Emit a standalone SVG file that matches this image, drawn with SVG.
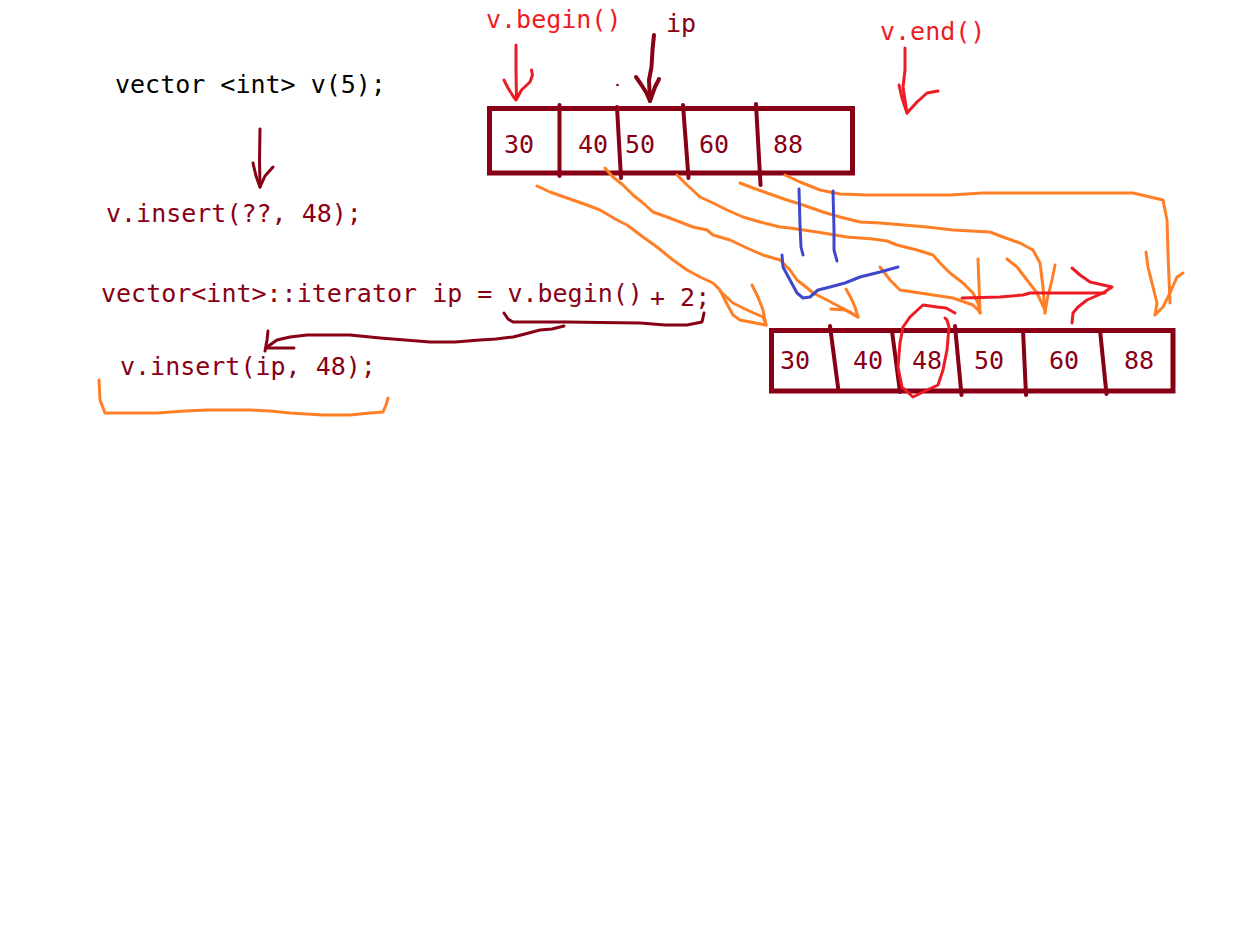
<svg xmlns="http://www.w3.org/2000/svg" width="1244" height="941" viewBox="0 0 1244 941">
<style>
text{font-family:"DejaVu Sans Mono","Liberation Mono",monospace;font-size:25px}
.dr{fill:#880015}
.rd{fill:#ED1C24}
.bk{fill:#000000}
.box{fill:none;stroke:#880015;stroke-width:5}
.div{stroke:#880015;stroke-width:4;stroke-linecap:round;fill:none}
.o{fill:none;stroke:#FF7F27;stroke-width:3;stroke-linecap:round;stroke-linejoin:round}
.b{fill:none;stroke:#3F48CC;stroke-width:3;stroke-linecap:round;stroke-linejoin:round}
.r{fill:none;stroke:#ED1C24;stroke-width:3;stroke-linecap:round;stroke-linejoin:round}
.d{fill:none;stroke:#880015;stroke-width:3;stroke-linecap:round;stroke-linejoin:round}
.d4{fill:none;stroke:#880015;stroke-width:4;stroke-linecap:round;stroke-linejoin:round}
</style>
<rect width="1244" height="941" fill="#ffffff"/>
<g id="code">
<text id="t-decl" class="bk" x="115" y="93">vector &lt;int&gt; v(5);</text>
<text id="t-insert1" class="dr" x="106" y="222">v.insert(??, 48);</text>
<text id="t-iter" class="dr" x="101" y="302">vector&lt;int&gt;::iterator ip = v.begin()</text>
<text id="t-plus" class="dr" x="650" y="306">+ 2;</text>
<text id="t-insert2" class="dr" x="120" y="375">v.insert(ip, 48);</text>
</g>
<g id="labels">
<text id="l-begin" class="rd" x="486" y="28">v.begin()</text>
<text id="l-ip" class="dr" x="666" y="32">ip</text>
<text id="l-end" class="rd" x="880" y="40">v.end()</text>
<circle cx="617.5" cy="85" r="1.3" fill="#880015"/>
</g>
<g id="vector-before">
<rect class="box" x="489.5" y="108.5" width="363" height="64.5"/>
<line class="div" x1="559.5" y1="105" x2="559.5" y2="176"/>
<line class="div" x1="617" y1="107" x2="621" y2="178"/>
<line class="div" x1="683" y1="105" x2="688.5" y2="178"/>
<line class="div" x1="756" y1="104" x2="760.5" y2="185"/>
<text class="dr" x="504" y="153">30</text>
<text class="dr" x="578" y="153">40</text>
<text class="dr" x="625" y="153">50</text>
<text class="dr" x="699" y="153">60</text>
<text class="dr" x="773" y="153">88</text>
</g>
<g id="vector-after">
<rect class="box" x="771.5" y="330.5" width="401.5" height="60.5"/>
<line class="div" x1="830" y1="326" x2="838.5" y2="391"/>
<line class="div" x1="892" y1="331" x2="900" y2="392"/>
<line class="div" x1="955" y1="326" x2="961.5" y2="395"/>
<line class="div" x1="1023" y1="330" x2="1026" y2="395"/>
<line class="div" x1="1100" y1="330" x2="1106.5" y2="394"/>
<text class="dr" x="780" y="369">30</text>
<text class="dr" x="853" y="369">40</text>
<text class="dr" x="912" y="369">48</text>
<text class="dr" x="974" y="369">50</text>
<text class="dr" x="1049" y="369">60</text>
<text class="dr" x="1124" y="369">88</text>
</g>
<g id="connectors">
<!-- v(5) to insert arrow -->
<polyline class="d" points="260,129 259.5,160 260,187"/>
<polyline class="d" points="253,163 256,176 260,187 265,176 273,167"/>
<!-- brace under v.begin() + 2 -->
<polyline class="d" points="504,313 508,319 513,322 540,322 567,322 600,322.5 640,323 665,325 687,325 702,322 704,313"/>
<!-- arrow to ip in insert -->
<polyline class="d" points="564,326 552,329 540,330 525,334 513,337 496,339 480,340 455,342 430,342 405,340 380,338 350,335 328,335 307,335 290,337 277,340 267,347"/>
<polyline class="d" points="268,331 267,340 265,351"/>
<polyline class="d" points="267,348 294,348"/>
<!-- orange brace under insert(ip) -->
<polyline class="o" points="99,380 100,400 105,413 130,413 157,413 185,411 207,410 230,410 250,410 270,411 290,413 323,415 350,415 370,413 383,412 386,405 388,398"/>
<!-- v.begin arrow -->
<polyline class="r" points="516,45 516,70 516.5,98"/>
<polyline class="r" points="504,80 508,88 513,96 516,100 521.5,90 530,82 532.5,75 531.5,70"/>
<!-- ip arrow -->
<polyline class="d4" points="654,35 652.5,50 651.5,67 649,80 650,101"/>
<polyline class="d4" points="636,77 641.5,85 646.5,93 650,101 655,87 659,79"/>
<!-- v.end arrow -->
<polyline class="r" points="905,48 905,70 903,87 905,100 907,113"/>
<polyline class="r" points="899,85 902,98 907,113 917,102 927,93 938,91"/>
<!-- curve 30 -->
<polyline class="o" points="537,186 550,192 567,198 587,205 600,210 617,220 627,225 643,237 657,247 673,260 687,270 700,277 713,283 720,290 726,302 733,315 740,320 766,325"/>
<polyline class="o" points="720,291 733,303 747,310 763,317 766,324"/>
<polyline class="o" points="752,285 758,297 763,310 766,325"/>
<!-- curve 40 -->
<polyline class="o" points="605,168 613,177 623,185 633,195 643,203 653,212 667,217 680,222 693,227 707,230 713,235 730,240 747,248 763,255 780,260 790,270 797,280 806,287 813,293 827,300 840,307 850,312 858,317"/>
<polyline class="o" points="846,289 851,298 855,307 858,317"/>
<polyline class="o" points="831,309 845,310 858,317"/>
<!-- curve 50 -->
<polyline class="o" points="677,175 687,185 700,197 713,203 727,210 743,217 760,222 780,227 790,228 817,232 847,237 873,239 887,241 897,245 917,250 933,255 940,263 950,273 963,283 973,293 978,303 980,313"/>
<polyline class="o" points="978,259 979,285 980,313"/>
<polyline class="o" points="880,267 890,280 900,290 920,293 953,298 973,305 980,312"/>
<!-- curve 60 -->
<polyline class="o" points="740,183 753,188 767,193 787,200 800,204 823,212 840,217 860,222 880,223 927,227 953,230 990,232 1003,237 1020,243 1033,250 1040,263 1043,287 1045,313"/>
<polyline class="o" points="1007,259 1017,267 1027,280 1037,293 1045,310"/>
<polyline class="o" points="1055,265 1052,280 1047,300 1045,313"/>
<!-- curve 88 -->
<polyline class="o" points="785,175 800,182 820,190 840,194 867,195 950,195 983,193 1087,193 1133,193 1163,200 1167,220 1168,253 1170,303"/>
<polyline class="o" points="1146,252 1148,267 1153,287 1157,303 1155,315 1163,307 1170,293 1177,277 1183,273"/>
<!-- blue marks -->
<polyline class="b" points="799,189 800,225 801,247 803,255"/>
<polyline class="b" points="833,191 834,230 834,250 837,261"/>
<polyline class="b" points="782,255 783,267 790,280 797,293 803,298 810,297 818,290 830,287 845,283 860,277 880,272 898,267"/>
<!-- red shift arrow -->
<polyline class="r" points="962,298 1000,297 1023,295 1030,293 1073,293 1105,293"/>
<polyline class="r" points="1072,268 1080,275 1090,282 1112,287 1103,293 1087,300 1078,307 1073,313 1072,323"/>
<!-- red circle around 48 -->
<polyline class="r" points="955,313 946,308 937,307 923,305 910,317 903,327 900,343 898,367 902,387 913,397 927,390 938,385 943,370 947,350 949,327 947,320 945,318"/>
</g>
</svg>
